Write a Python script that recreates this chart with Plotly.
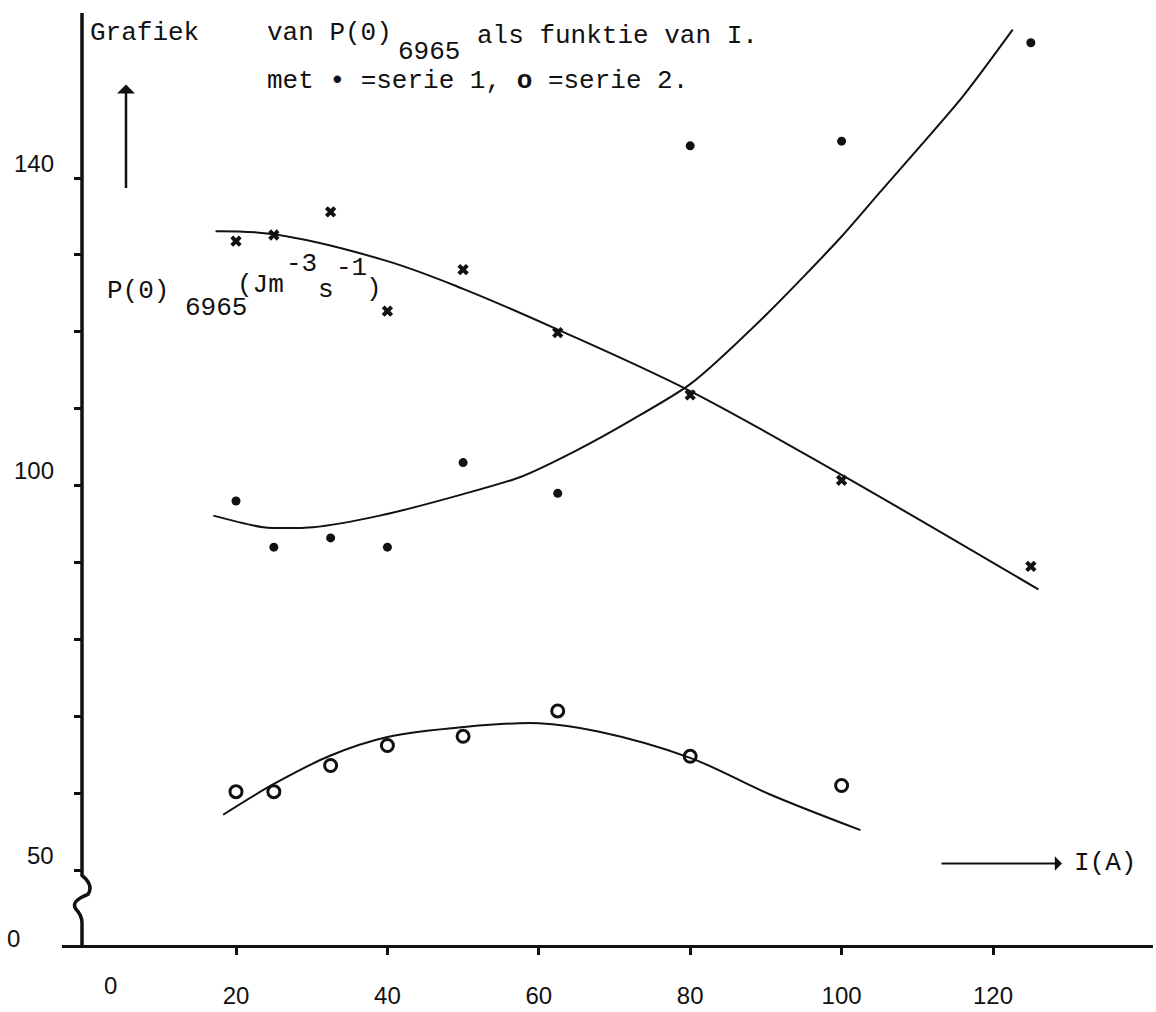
import plotly.graph_objects as go

# ---- measured values -------------------------------------------------------
current_A = [20, 25, 32.5, 40, 50, 62.5, 80, 100, 125]

# crosses (no series label)
p_cross = [131.8, 132.6, 135.6, 122.7, 128.1, 119.9, 111.8, 100.7, 89.5]
# series 1 (filled dots)
p_serie1 = [98.0, 92.0, 93.2, 92.0, 103.0, 99.0, 144.2, 144.8, 157.6]
# series 2 (open circles)
current_A2 = [20, 25, 32.5, 40, 50, 62.5, 80, 100]
p_serie2 = [60.2, 60.2, 63.6, 66.2, 67.4, 70.7, 64.8, 61.0]

# hand-drawn fitted curves
fit_cross_x = [17.3, 25, 40, 50, 62.5, 80, 100, 126]
fit_cross_y = [133.1, 132.7, 129.2, 125.6, 120.3, 112.3, 101.4, 86.5]
fit_s1_x = [17, 23.6, 30.2, 39, 50, 57.5, 65, 72, 80, 90, 100, 105.1, 116, 122.6]
fit_s1_y = [96.1, 94.6, 94.6, 96.1, 98.9, 101.1, 104.6, 108.4, 113.2, 122.2, 132.4, 138.2, 150.6, 159.3]
fit_s2_x = [18.3, 25, 32.5, 40, 50, 60, 68, 80, 90.4, 102.5]
fit_s2_y = [57.2, 61.2, 64.9, 67.3, 68.6, 69.1, 68.0, 64.6, 59.9, 55.2]

x_ticks = [20, 40, 60, 80, 100, 120]
y_ticks = [50, 60, 70, 80, 90, 100, 110, 120, 130, 140]
y_labels = {"140": 140, "100": 100, "50": 50}

# ---- page geometry ---------------------------------------------------------
W, H = 1156, 1012
ML, MR, MT, MB = 62, 3, 10, 62
X0_PX, X_PER_UNIT = 84.6, 7.57        # pixel of I = 0, pixels per ampere
Y140_PX, Y_PER_UNIT = 179.0, 7.73     # pixel of P = 140, pixels per unit


def dx(px):
    return (px - X0_PX) / X_PER_UNIT


def dy(py):
    return 140 - (py - Y140_PX) / Y_PER_UNIT


def paper_x(px):
    return (px - ML) / (W - ML - MR)


def paper_y(py):
    return (H - MB - py) / (H - MT - MB)


TYPE = "Liberation Mono, Courier New, monospace"
NUM = "Liberation Sans, Arial, sans-serif"
INK = "#111111"

fig = go.Figure()

fig.add_trace(go.Scatter(x=fit_cross_x, y=fit_cross_y, mode="lines",
                         line=dict(color=INK, width=2, shape="spline", smoothing=1.0),
                         hoverinfo="skip", showlegend=False))
fig.add_trace(go.Scatter(x=fit_s1_x, y=fit_s1_y, mode="lines",
                         line=dict(color=INK, width=2, shape="spline", smoothing=0.7),
                         hoverinfo="skip", showlegend=False))
fig.add_trace(go.Scatter(x=fit_s2_x, y=fit_s2_y, mode="lines",
                         line=dict(color=INK, width=2, shape="spline", smoothing=1.0),
                         hoverinfo="skip", showlegend=False))

fig.add_trace(go.Scatter(x=current_A, y=p_cross, mode="markers", name="x",
                         marker=dict(symbol="x", size=10, color=INK), showlegend=False))
fig.add_trace(go.Scatter(x=current_A, y=p_serie1, mode="markers", name="serie 1",
                         marker=dict(symbol="circle", size=9, color=INK), showlegend=False))
fig.add_trace(go.Scatter(x=current_A2, y=p_serie2, mode="markers", name="serie 2",
                         marker=dict(symbol="circle-open", size=12, color=INK,
                                     line=dict(width=3, color=INK)), showlegend=False))

# vertical axis with a break near the origin
path = "M {} {}".format(dx(82), dy(13))
path += " L {} {}".format(dx(82), dy(880))
path += " Q {} {} {} {}".format(dx(94), dy(890), dx(88), dy(899))
path += " Q {} {} {} {}".format(dx(70), dy(906), dx(76), dy(914))
path += " Q {} {} {} {}".format(dx(82), dy(920), dx(82), dy(928))
path += " L {} {}".format(dx(82), dy(957))
fig.add_shape(type="path", path=path, xref="x", yref="y",
              line=dict(color=INK, width=3.5))

annots = []


def text(s, px, py, size=26, font=TYPE, anchor="left"):
    annots.append(dict(x=paper_x(px), y=paper_y(py), xref="paper", yref="paper",
                       text=s, showarrow=False, xanchor=anchor, yanchor="middle",
                       font=dict(family=font, size=size, color=INK)))


# title block
text("Grafiek", 88, 33)
text("van P(0)", 265, 33)
text("6965", 396, 52)
text("als funktie van I.", 475, 36)
text("met <b>•</b> =serie 1, <b>o</b> =serie 2.", 265, 81)

# y-axis quantity
text("P(0)", 105, 292)
text("6965", 183, 310)
text("(Jm", 235, 286)
text("-3", 284, 265)
text("s", 316, 291)
text("-1", 334, 269)
text(")", 364, 290)

# tick labels placed beside the axes
for lab, v in y_labels.items():
    py = Y140_PX + (140 - v) * Y_PER_UNIT - 15
    text(lab, 56, py, size=24, font=NUM, anchor="right")
text("0", 22, 943, size=24, font=NUM, anchor="right")
text("0", 110, 991, size=24, font=NUM, anchor="center")

# direction arrows
annots.append(dict(x=paper_x(126), y=paper_y(85), xref="paper", yref="paper",
                   ax=0, ay=105, showarrow=True, arrowhead=1, arrowsize=1.2,
                   arrowwidth=2.5, arrowcolor=INK, text=""))
annots.append(dict(x=paper_x(1062), y=paper_y(868), xref="paper", yref="paper",
                   ax=-122, ay=0, showarrow=True, arrowhead=1, arrowsize=1.2,
                   arrowwidth=2, arrowcolor=INK, text=""))
text("I(A)", 1072, 868)

fig.update_layout(
    width=W, height=H, margin=dict(l=ML, r=MR, t=MT, b=MB),
    paper_bgcolor="white", plot_bgcolor="white",
    annotations=annots,
    xaxis=dict(range=[dx(ML), dx(W - MR)], showgrid=False, zeroline=False,
               showline=True, linecolor=INK, linewidth=3,
               ticks="outside", ticklen=7, tickwidth=3, tickcolor=INK,
               tickvals=x_ticks, ticklabelstandoff=20,
               tickfont=dict(family=NUM, size=24, color=INK)),
    yaxis=dict(range=[dy(H - MB), dy(MT)], showgrid=False, zeroline=False,
               showline=False, anchor="free", position=(82 - ML) / (W - ML - MR),
               ticks="outside", ticklen=8, tickwidth=3, tickcolor=INK,
               tickvals=y_ticks, showticklabels=False),
)

fig.write_html("out.html")
